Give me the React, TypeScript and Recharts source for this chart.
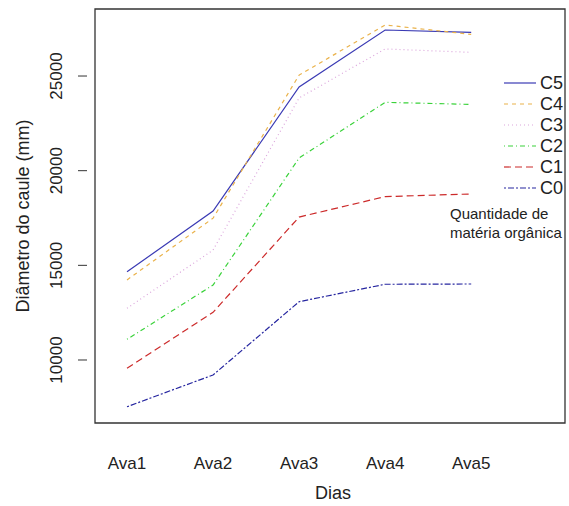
import { LineChart, Line, XAxis, YAxis, ReferenceArea } from "recharts";

const DAYS = ["Ava1", "Ava2", "Ava3", "Ava4", "Ava5"];
const C5 = [14660, 17870, 24420, 27430, 27310];
const C4 = [14230, 17490, 25050, 27700, 27200];
const C3 = [12730, 15810, 23840, 26430, 26250];
const C2 = [11090, 13960, 20670, 23610, 23500];
const C1 = [9560, 12520, 17550, 18630, 18770];
const C0 = [7530, 9210, 13080, 14000, 14015];
const Y_TICKS = [10000, 15000, 20000, 25000];

const X_DOMAIN: [number, number] = [0.628, 6.09];
const Y_DOMAIN: [number, number] = [6672, 28540];

const SERIES = [
  { key: "C5", values: C5, color: "#3a3ab4", dash: undefined },
  { key: "C4", values: C4, color: "#eab24a", dash: "4 4" },
  { key: "C3", values: C3, color: "#dba6dc", dash: "1 3" },
  { key: "C2", values: C2, color: "#3ad23a", dash: "1 3 5 3" },
  { key: "C1", values: C1, color: "#cc2a2a", dash: "7 4" },
  { key: "C0", values: C0, color: "#2626a0", dash: "2 2 6 2" },
];

const data = DAYS.map((d, i) => {
  const row: Record<string, string | number> = { x: i + 1, day: d };
  SERIES.forEach((s) => {
    row[s.key] = s.values[i];
  });
  return row;
});

const FONT = "'Liberation Sans', Arial, sans-serif";

function YTick(props: any) {
  const { x, y, payload } = props;
  const tx = x - 30;
  return (
    <g>
      <line x1={x - 9} x2={x} y1={y} y2={y} stroke="#333" />
      <text
        x={tx}
        y={y}
        transform={`rotate(-90 ${tx} ${y})`}
        textAnchor="middle"
        dominantBaseline="central"
        fontSize={17}
        fill="#222"
        fontFamily={FONT}
      >
        {payload.value}
      </text>
    </g>
  );
}

function XTick(props: any) {
  const { x, y, payload } = props;
  return (
    <text x={x} y={y + 32} textAnchor="middle" dominantBaseline="central" fontSize={17} fill="#222" fontFamily={FONT}>
      {DAYS[payload.value - 1]}
    </text>
  );
}

function LegendBox() {
  return (
    <svg width={120} height={175} style={{ position: "absolute", left: 450, top: 72 }}>
      {SERIES.map((s, i) => {
        const cy = 11 + i * 21;
        return (
          <g key={s.key}>
            <line x1={54} x2={86} y1={cy} y2={cy} stroke={s.color} strokeWidth={1.2} strokeDasharray={s.dash} />
            <text x={90} y={cy} dominantBaseline="central" fontSize={18} fill="#222" fontFamily={FONT}>
              {s.key}
            </text>
          </g>
        );
      })}
      <text x={0} y={141} dominantBaseline="central" fontSize={15} fill="#222" fontFamily={FONT}>
        Quantidade de
      </text>
      <text x={0} y={160} dominantBaseline="central" fontSize={15} fill="#222" fontFamily={FONT}>
        matéria orgânica
      </text>
    </svg>
  );
}

export default function App() {
  return (
    <div style={{ position: "absolute", left: 0, top: 0, width: 569, height: 506, background: "#fff" }}>
      <LineChart width={569} height={506} data={data} margin={{ top: 9, right: 4, bottom: 0, left: 0 }}>
        <XAxis
          dataKey="x"
          type="number"
          domain={X_DOMAIN}
          ticks={[1, 2, 3, 4, 5]}
          allowDataOverflow
          axisLine={false}
          tickLine={false}
          tick={<XTick />}
          height={83}
          label={{
            content: () => (
              <text x={333} y={493} textAnchor="middle" dominantBaseline="central" fontSize={18} fill="#222" fontFamily={FONT}>
                Dias
              </text>
            ),
          }}
        />
        <YAxis
          type="number"
          domain={Y_DOMAIN}
          ticks={Y_TICKS}
          allowDataOverflow
          axisLine={false}
          tickLine={false}
          tick={<YTick />}
          width={95}
          label={{
            content: () => (
              <text
                x={23}
                y={216}
                transform="rotate(-90 23 216)"
                textAnchor="middle"
                dominantBaseline="central"
                fontSize={18}
                fill="#222"
                fontFamily={FONT}
              >
                Diâmetro do caule (mm)
              </text>
            ),
          }}
        />
        <ReferenceArea
          x1={X_DOMAIN[0]}
          x2={X_DOMAIN[1]}
          y1={Y_DOMAIN[0]}
          y2={Y_DOMAIN[1]}
          fill="none"
          stroke="#333"
          strokeWidth={1.3}
          ifOverflow="visible"
        />
        {SERIES.map((s) => (
          <Line
            key={s.key}
            dataKey={s.key}
            type="linear"
            stroke={s.color}
            strokeWidth={1.2}
            strokeDasharray={s.dash}
            dot={false}
            activeDot={false}
            isAnimationActive={false}
          />
        ))}
      </LineChart>
      <LegendBox />
    </div>
  );
}
